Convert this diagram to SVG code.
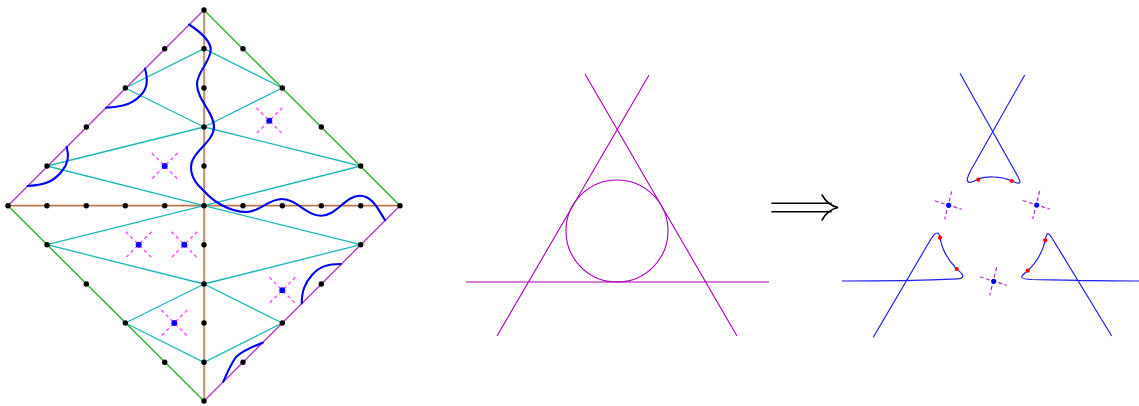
<svg xmlns="http://www.w3.org/2000/svg" width="1139" height="406" viewBox="0 0 1139 406">
<style>
.e{fill:none;stroke-linecap:round}
.pu{stroke:#b040c0;stroke-width:1.4}
.gr{stroke:#30b030;stroke-width:1.4}
.te{stroke:#20b8b8;stroke-width:1.3}
.v{stroke:#c09878;stroke-width:2.2}
.h{stroke:#b87850;stroke-width:1.8}
.b{fill:none;stroke:#0000f0;stroke-width:2.1;stroke-linecap:round}
.m{fill:none;stroke:#a800b8;stroke-width:1.1}
.c{fill:none;stroke:#2020f0;stroke-width:1.2}
.k{fill:none;stroke:#000;stroke-width:1.6;stroke-linecap:round}
.d{fill:#000}
.bd{fill:#0000ff}
.rd{fill:#ff0000}
.x{stroke:#ff40ff;stroke-width:1.3;stroke-dasharray:3.500 3;fill:none}
.y{stroke:#b030c8;stroke-width:1.200;stroke-dasharray:4 2.500;fill:none}
</style>
<defs>
<circle id="dot" class="d" r="2.700"/>
<g id="star"><path class="x" d="M-13-13L13 13M13-13L-13 13"/><circle class="bd" r="3"/></g>
<g id="star2"><path class="y" d="M3-14L-4 14M-14-4.500L13 4"/><circle class="bd" r="2.600"/></g>
</defs>
<g id="connectors">
<path class="e v" d="M204.200 10V401"/>
<path class="e h" d="M8 205.700H400"/>
<path class="e te" d="M125.300 88L204 48.700M125.300 88L204 127M47 166L204 127M47 166L204 205.700M282.300 88L204 48.700M282.300 88L204 127M360.700 166L204 127M360.700 166L204 205.700M47 244.700L204 205.700M47 244.700L204 284M125.300 323L204 284M125.300 323L204 362.300M360.700 244.700L204 205.700M360.700 244.700L204 284M282.300 323L204 284M282.300 323L204 362.300"/>
<path class="e pu" d="M8 205.700L204 10M400 205.700L204 401"/>
<path class="e gr" d="M204 10L400 205.700M8 205.700L204 401"/>
<path class="b" d="M189 24.500C199 31 211 40 210.700 50C210.300 62 197 72 197 84C197 100 214 112 214 127C214 142 191 152 191 167C191 180 200 187 205 192C212 200 228 212 246.700 212C260 212 268 199 282 199C297 199 306 215.700 321 215.700C337 215.700 345 195.700 360 195.700C372 195.700 378 209 385 220"/>
<path class="b" d="M145 68.500C148 80 148 88 140 96C130 106 118 107 106 107.700"/>
<path class="b" d="M66.700 146.700C69 155 69 163 62 171C55 180 47 185 27.700 186"/>
<path class="b" d="M301.700 303.300C302 292 304 284 312 275C320 266 328 264 341 264"/>
<path class="b" d="M223.300 381.700C227 373 231 364 236 357C243 350 252 347 262.700 342.700"/>
<path class="m" d="M466 282H769M585 74L737 336M649 75L497 336"/>
<circle class="m" cx="617" cy="231" r="51"/>
<path class="k" d="M772 203.300H831M772 211.700H831M822 195C826 202 831 206 838 207.500C831 209 826 213 822 220"/>
<path class="c" d="M960 73.300L1018 176.700C1020.500 181 1021 184 1017 183C1014 182.300 1013 181.300 1011.700 180.700C1000 176 986 176 978.300 179.300C975 180.500 972 182.300 970 182.300C967 182.500 966.500 180 968 176.500C970 171 973 166 975 163L1024.700 75"/>
<path class="c" d="M842 281C880 281 930 280 958 278.800C963 278.500 964 276.500 961.500 273.500C960 271.500 958.500 270.500 956.700 269C948 260 942 250 940 237.700C939.500 234 938 232 935.500 233.500C933 235 931 239 928 244L873.300 337.300"/>
<path class="c" d="M1111.700 336L1052 238C1049.500 234 1048 232.500 1046.800 234.500C1046 236 1045.800 238 1045.300 240.300C1042 254 1036 263 1027.700 270.700C1024 274 1021 276 1021.800 277.500C1023 279 1027 279.300 1032 279.500C1060 280 1100 281 1139 281"/>
</g>
<g id="grid-dots">
<use href="#dot" x="204" y="10"/><use href="#dot" x="8" y="205.700"/><use href="#dot" x="400" y="205.700"/><use href="#dot" x="204" y="401"/>
<use href="#dot" x="47" y="166"/><use href="#dot" x="86.300" y="127"/><use href="#dot" x="125.300" y="88"/><use href="#dot" x="164.700" y="48.700"/>
<use href="#dot" x="243" y="48.700"/><use href="#dot" x="282.300" y="88"/><use href="#dot" x="321.300" y="127"/><use href="#dot" x="360.700" y="166"/>
<use href="#dot" x="47" y="244.700"/><use href="#dot" x="86.300" y="284"/><use href="#dot" x="125.300" y="323"/><use href="#dot" x="164.700" y="362.300"/>
<use href="#dot" x="243" y="362.300"/><use href="#dot" x="282.300" y="323"/><use href="#dot" x="321.300" y="284"/><use href="#dot" x="360.700" y="244.700"/>
<use href="#dot" x="204" y="48.700"/><use href="#dot" x="204" y="88"/><use href="#dot" x="204" y="127"/><use href="#dot" x="204" y="166"/><use href="#dot" x="204" y="205.700"/><use href="#dot" x="204" y="244.700"/><use href="#dot" x="204" y="284"/><use href="#dot" x="204" y="323"/><use href="#dot" x="204" y="362.300"/>
<use href="#dot" x="47" y="205.700"/><use href="#dot" x="86.300" y="205.700"/><use href="#dot" x="125.300" y="205.700"/><use href="#dot" x="164.700" y="205.700"/><use href="#dot" x="243" y="205.700"/><use href="#dot" x="282.300" y="205.700"/><use href="#dot" x="321.300" y="205.700"/><use href="#dot" x="360.700" y="205.700"/>
</g>
<g id="punctures-left">
<use href="#star" x="269.300" y="120.700"/><use href="#star" x="164.700" y="166"/><use href="#star" x="138.700" y="244.700"/><use href="#star" x="184.300" y="244.700"/><use href="#star" x="174.300" y="323"/><use href="#star" x="282.300" y="290.300"/>
</g>
<g id="punctures-right">
<use href="#star2" x="948.700" y="205.300"/><use href="#star2" x="1036.700" y="205"/><use href="#star2" x="993.700" y="281.300"/>
</g>
<g id="red-points">
<circle class="rd" cx="978.300" cy="179.700" r="2.100"/><circle class="rd" cx="1011.700" cy="181" r="2.100"/><circle class="rd" cx="940" cy="237.700" r="2.100"/><circle class="rd" cx="956.700" cy="269" r="2.100"/><circle class="rd" cx="1045.300" cy="240.300" r="2.100"/><circle class="rd" cx="1027.700" cy="270.700" r="2.100"/>
</g>
</svg>
